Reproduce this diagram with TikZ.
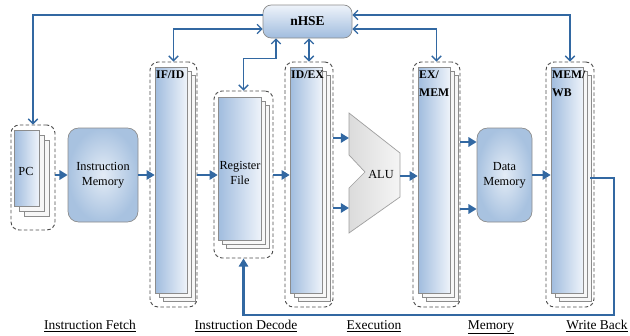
\documentclass[tikz,border=0pt]{standalone}
\usepackage{fontspec}
\setmainfont{Liberation Serif}
\usetikzlibrary{arrows.meta,fit,calc}
\definecolor{lnblue}{RGB}{50,104,162}
\definecolor{boxgray}{RGB}{140,140,140}
\definecolor{lbA}{RGB}{160,188,222}
\definecolor{lbB}{RGB}{238,243,250}
\definecolor{memin}{RGB}{228,236,246}
\definecolor{memout}{RGB}{168,194,224}
\tikzset{
 front/.style={draw=boxgray, line width=0.5pt, left color=lbA, right color=lbB, inner sep=0pt},
 back/.style={draw=boxgray, fill=gray!6, line width=0.5pt},
 dashbox/.style={draw=gray!60!black, dash pattern=on 3pt off 2pt, rounded corners=7pt, line width=0.8pt, inner sep=0pt},
 membox/.style={draw=boxgray, line width=0.6pt, rounded corners=9pt, inner color=memin, outer color=memout, inner sep=0pt, align=center, font=\fontsize{10}{13}\selectfont},
 hsebox/.style={draw=boxgray, line width=0.6pt, rounded corners=7pt, top color=lbB, bottom color=lbA, inner sep=0pt, font=\bfseries\fontsize{11}{13}\selectfont},
 alushape/.style={draw=gray!75, line width=0.6pt, left color=gray!28, right color=gray!8},
 reglbl/.style={font=\bfseries\fontsize{10}{15}\selectfont, align=left, inner sep=0pt, anchor=north west},
 txt/.style={font=\fontsize{10.5}{13}\selectfont, align=center, inner sep=0pt},
 stage/.style={font=\fontsize{11.5}{13}\selectfont, inner sep=0pt, anchor=base},
 flow/.style={draw=lnblue, line width=2.3pt, -{Triangle[length=7pt,width=8pt]}},
 ctl/.style={draw=lnblue, line width=1.1pt, {Straight Barb[length=4pt,width=8pt]}-{Straight Barb[length=4pt,width=8pt]}},
 ctlone/.style={draw=lnblue, line width=1.1pt, -{Straight Barb[length=4pt,width=8pt]}},
}
\newcommand\regstack[6]{%
 \path[back] ({#2+2*#6},{#3+2*#6}) rectangle ({#4+2*#6},{#5+2*#6});
 \path[back] ({#2+#6},{#3+#6}) rectangle ({#4+#6},{#5+#6});
 \node[front, fit={(#2,#3) (#4,#5)}] (#1) {};
}
\begin{document}
\begin{tikzpicture}[x=0.03cm,y=-0.03cm]
\useasboundingbox (0,0) rectangle (630,336);

% nHSE
\node[hsebox, fit={(263,5) (352,38)}] (nhse) {};
\node[font=\bfseries\fontsize{11.5}{13}\selectfont, inner sep=0pt] (nhsel) at (nhse.center) {nHSE};

% PC
\regstack{pc}{14}{130}{39}{206}{5}
\node[dashbox, fit={(11,125) (55,230)}] (pcd) {};
\node[txt] (pcl) at (26,171) {PC};

% Instruction memory
\node[membox, fit={(68,128) (138,222)}] (im) {};
\node[txt] (iml) at (im.center) {Instruction\\Memory};

% IF/ID
\regstack{ifid}{155}{67}{187}{293}{4}
\node[dashbox, fit={(150,62) (197,307)}] (ifidd) {};
\node[reglbl] (ifidl) at (156,71) {IF/ID};

% Register file
\regstack{rf}{218}{97}{261}{240}{4}
\node[dashbox, fit={(214,91) (273,258)}] (rfd) {};
\node[txt] (rfl) at (240,173) {Register\\File};

% ID/EX
\regstack{idex}{290}{67}{322}{293}{4}
\node[dashbox, fit={(285,62) (333,307)}] (idexd) {};
\node[reglbl] (idexl) at (291,71) {ID/EX};

% ALU
\draw[alushape] (349,113) coordinate (alutl) -- (400,153) -- (400,197) -- (349,233) -- (349,188) -- (365,172) -- (349,155) -- cycle;
\node[txt] (alul) at (381,174) {ALU};
\coordinate (aluin1) at (349,138);
\coordinate (aluin2) at (349,208);
\coordinate (aluout) at (400,176);

% EX/MEM
\regstack{exmem}{418}{67}{450}{293}{4}
\node[dashbox, fit={(413,62) (460,307)}] (exmemd) {};
\node[reglbl] (exmeml) at (419,71) {EX/\\MEM};

% Data memory
\node[membox, fit={(477,128) (532,222)}] (dm) {};
\node[txt] (dml) at (dm.center) {Data\\Memory};

% MEM/WB
\regstack{mwb}{551}{67}{583}{293}{4}
\node[dashbox, fit={(546,62) (594,307)}] (mwbd) {};
\node[reglbl] (mwbl) at (552,71) {MEM/\\WB};

% data flow
\draw[flow] (pcd.east |- im.west) -- (im.west);
\draw[flow] (im.east) -- (ifid.west |- im.east);
\draw[flow] (ifidd.east |- im.east) -- (rf.west |- im.east);
\draw[flow] (rfd.east |- im.east) -- (idex.west |- im.east);
\draw[flow] (idexd.east |- aluin1) -- (aluin1);
\draw[flow] (idexd.east |- aluin2) -- (aluin2);
\draw[flow] (aluout) -- (exmem.west |- aluout);
\draw[flow] (exmemd.east |- 0,142) -- (dm.west |- 0,142);
\draw[flow] (exmemd.east |- 0,209) -- (dm.west |- 0,209);
\draw[flow] (dm.east) -- (mwb.west |- dm.east);
\coordinate (wbout) at (590,178);
\coordinate (wbc) at (614,315);
\draw[flow] (wbout) -| (wbc) -| (rfd.south);

% control to nHSE
\draw[ctlone] ($(nhse.west)+(0,-6.5)$) -| (pcd.north);
\draw[ctl] (ifidd.north) |- ($(nhse.west)+(0,7.5)$);
\draw[ctl] (rfd.north) -- ++(0,-32) -| ($(nhse.south)+(-31.5,0)$);
\draw[ctl] (idexd.north) -- (idexd.north |- nhse.south);
\draw[ctl] ($(nhse.east)+(0,7.5)$) -| (exmemd.north);
\draw[ctl] ($(nhse.east)+(0,-6.5)$) -| (mwbd.north);

% stage labels
\node[stage] (sif) at (90,329) {\underline{Instruction Fetch}};
\node[stage] (sid) at (246,329) {\underline{Instruction Decode}};
\node[stage] (sex) at (374,329) {\underline{Execution}};
\node[stage] (smem) at (491,329) {\underline{Memory}};
\node[stage] (swb) at (597,329) {\underline{Write Back}};
\end{tikzpicture}
\end{document}
